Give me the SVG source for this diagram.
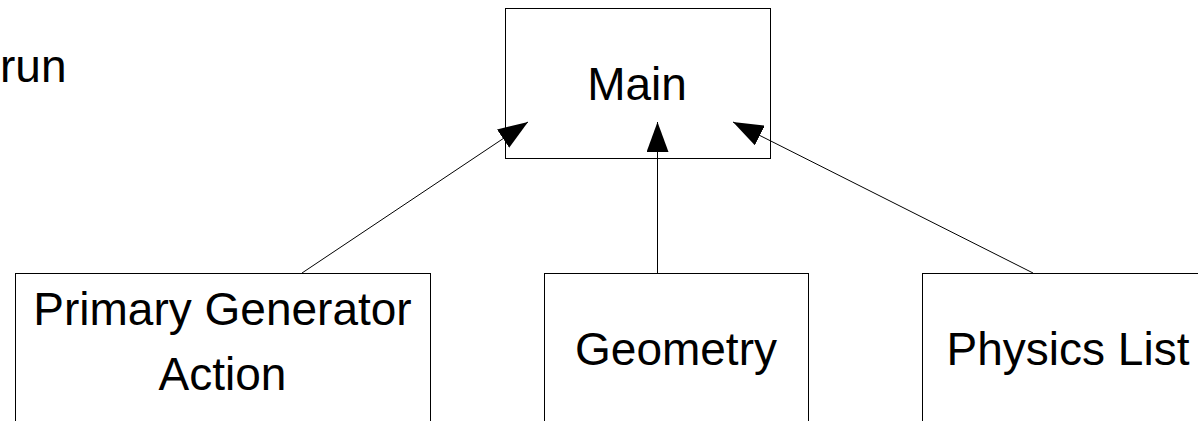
<svg xmlns="http://www.w3.org/2000/svg" width="1198" height="421" viewBox="0 0 1198 421">
  <style>
    .box { fill: #ffffff; stroke: #000000; stroke-width: 1; }
    .lbl { font-family: "Liberation Sans", Arial, sans-serif; font-size: 46px; fill: #000000; text-anchor: middle; }
    .free { font-family: "Liberation Sans", Arial, sans-serif; font-size: 46px; fill: #000000; }
    .conn { stroke: #000000; stroke-width: 1; fill: none; marker-end: url(#arrow); }
  </style>
  <defs>
    <marker id="arrow" viewBox="0 0 30 22" refX="30" refY="11" markerWidth="30" markerHeight="22" markerUnits="userSpaceOnUse" orient="auto">
      <path d="M0,0 L30,11 L0,22 z" fill="#000000"/>
    </marker>
  </defs>
  <rect width="1198" height="421" fill="#ffffff"/>
  <text class="free" x="0" y="82">run</text>
  <g id="main">
    <rect class="box" x="505.5" y="8.5" width="265" height="150"/>
    <text class="lbl" x="637" y="100">Main</text>
  </g>
  <g id="primary-generator-action">
    <rect class="box" x="15.5" y="273.5" width="415" height="200"/>
    <text class="lbl" x="222.5" y="325">Primary Generator</text>
    <text class="lbl" x="222.5" y="390">Action</text>
  </g>
  <g id="geometry">
    <rect class="box" x="544.5" y="273.5" width="264" height="200"/>
    <text class="lbl" x="676" y="365">Geometry</text>
  </g>
  <g id="physics-list">
    <rect class="box" x="922.5" y="273.5" width="292" height="200"/>
    <text class="lbl" x="1068" y="365">Physics List</text>
  </g>
  <g id="connectors">
    <line class="conn" x1="302" y1="273" x2="528" y2="122"/>
    <line class="conn" x1="657.5" y1="273" x2="657.5" y2="122"/>
    <line class="conn" x1="1033" y1="273" x2="733" y2="122"/>
  </g>
</svg>
